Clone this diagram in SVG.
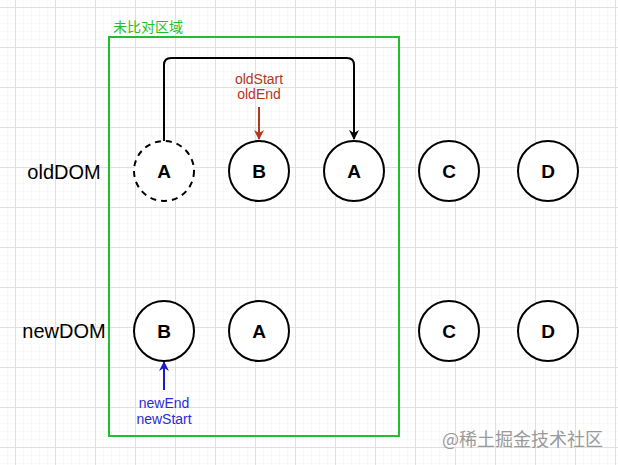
<svg xmlns="http://www.w3.org/2000/svg" width="618" height="465" viewBox="0 0 618 465">
<defs>
<pattern id="minor" x="15" y="7" width="8" height="8" patternUnits="userSpaceOnUse">
<path d="M0 0H8M0 0V8" fill="none" stroke="#f3f3f3" stroke-width="1"/>
</pattern>
<pattern id="major" x="15" y="7" width="40" height="40" patternUnits="userSpaceOnUse">
<path d="M0 0.5H40M0.5 0V40" fill="none" stroke="#e0e0e0" stroke-width="1"/>
</pattern>
<marker id="ab" viewBox="0 0 10 10" refX="9" refY="5" markerWidth="5" markerHeight="5" orient="auto"><path d="M0 0L10 5L0 10L3 5Z" fill="#000"/></marker>
<marker id="ar" viewBox="0 0 10 10" refX="9" refY="5" markerWidth="5" markerHeight="5" orient="auto"><path d="M0 0L10 5L0 10L3 5Z" fill="#b5361c"/></marker>
<marker id="au" viewBox="0 0 10 10" refX="9" refY="5" markerWidth="5" markerHeight="5" orient="auto"><path d="M0 0L10 5L0 10L3 5Z" fill="#1a1acc"/></marker>
</defs>
<style>
.n{fill:#fff;stroke:#000;stroke-width:2}
.d{stroke-dasharray:6 5}
.t{font-family:"Liberation Sans",Arial,sans-serif;font-weight:bold;font-size:19px;text-anchor:middle;fill:#000}
.lab{font-family:"Liberation Sans",Arial,sans-serif;font-size:20px;text-anchor:middle;fill:#000}
.s{font-family:"Liberation Sans",Arial,sans-serif;font-size:14px;text-anchor:middle}
</style>
<rect width="618" height="465" fill="#fff"/>
<rect width="618" height="465" fill="url(#minor)"/>
<rect width="618" height="465" fill="url(#major)"/>

<g id="region">
<rect x="109" y="37" width="290" height="399" fill="none" stroke="#1ec12c" stroke-width="2"/>
<text x="113" y="32" font-family="'Noto Sans CJK SC',sans-serif" font-size="14" fill="#1ec12c">未比对区域</text>
</g>

<text class="lab" x="64" y="179">oldDOM</text>
<text class="lab" x="64" y="338">newDOM</text>

<g id="connectors">
<path d="M164 141V65Q164 58 171 58H347Q354 58 354 65V139" fill="none" stroke="#000" stroke-width="2" marker-end="url(#ab)"/>
<path d="M259 107V139" fill="none" stroke="#b5361c" stroke-width="2" marker-end="url(#ar)"/>
<path d="M164 390V362" fill="none" stroke="#1a1acc" stroke-width="2" marker-end="url(#au)"/>
</g>

<g id="old-A-dashed"><circle class="n d" cx="164" cy="171" r="30"/><text class="t" x="164" y="178">A</text></g>
<g id="old-B"><circle class="n" cx="259" cy="171" r="30"/><text class="t" x="259" y="178">B</text></g>
<g id="old-A"><circle class="n" cx="354" cy="171" r="30"/><text class="t" x="354" y="178">A</text></g>
<g id="old-C"><circle class="n" cx="449" cy="171" r="30"/><text class="t" x="449" y="178">C</text></g>
<g id="old-D"><circle class="n" cx="548" cy="171" r="30"/><text class="t" x="548" y="178">D</text></g>

<g id="new-B"><circle class="n" cx="164" cy="331" r="30"/><text class="t" x="164" y="338">B</text></g>
<g id="new-A"><circle class="n" cx="259" cy="331" r="30"/><text class="t" x="259" y="338">A</text></g>
<g id="new-C"><circle class="n" cx="449" cy="331" r="30"/><text class="t" x="449" y="338">C</text></g>
<g id="new-D"><circle class="n" cx="548" cy="331" r="30"/><text class="t" x="548" y="338">D</text></g>

<g id="old-pointer-label">
<text class="s" x="259" y="84" fill="#b5361c">oldStart</text>
<text class="s" x="259" y="99" fill="#b5361c">oldEnd</text>
</g>
<g id="new-pointer-label">
<text class="s" x="164" y="408" fill="#2b2bd6">newEnd</text>
<text class="s" x="164" y="424" fill="#2b2bd6">newStart</text>
</g>

<text x="442" y="446" font-family="'Noto Sans CJK SC',sans-serif" font-size="18" fill="#9a9a9a">@稀土掘金技术社区</text>
</svg>
